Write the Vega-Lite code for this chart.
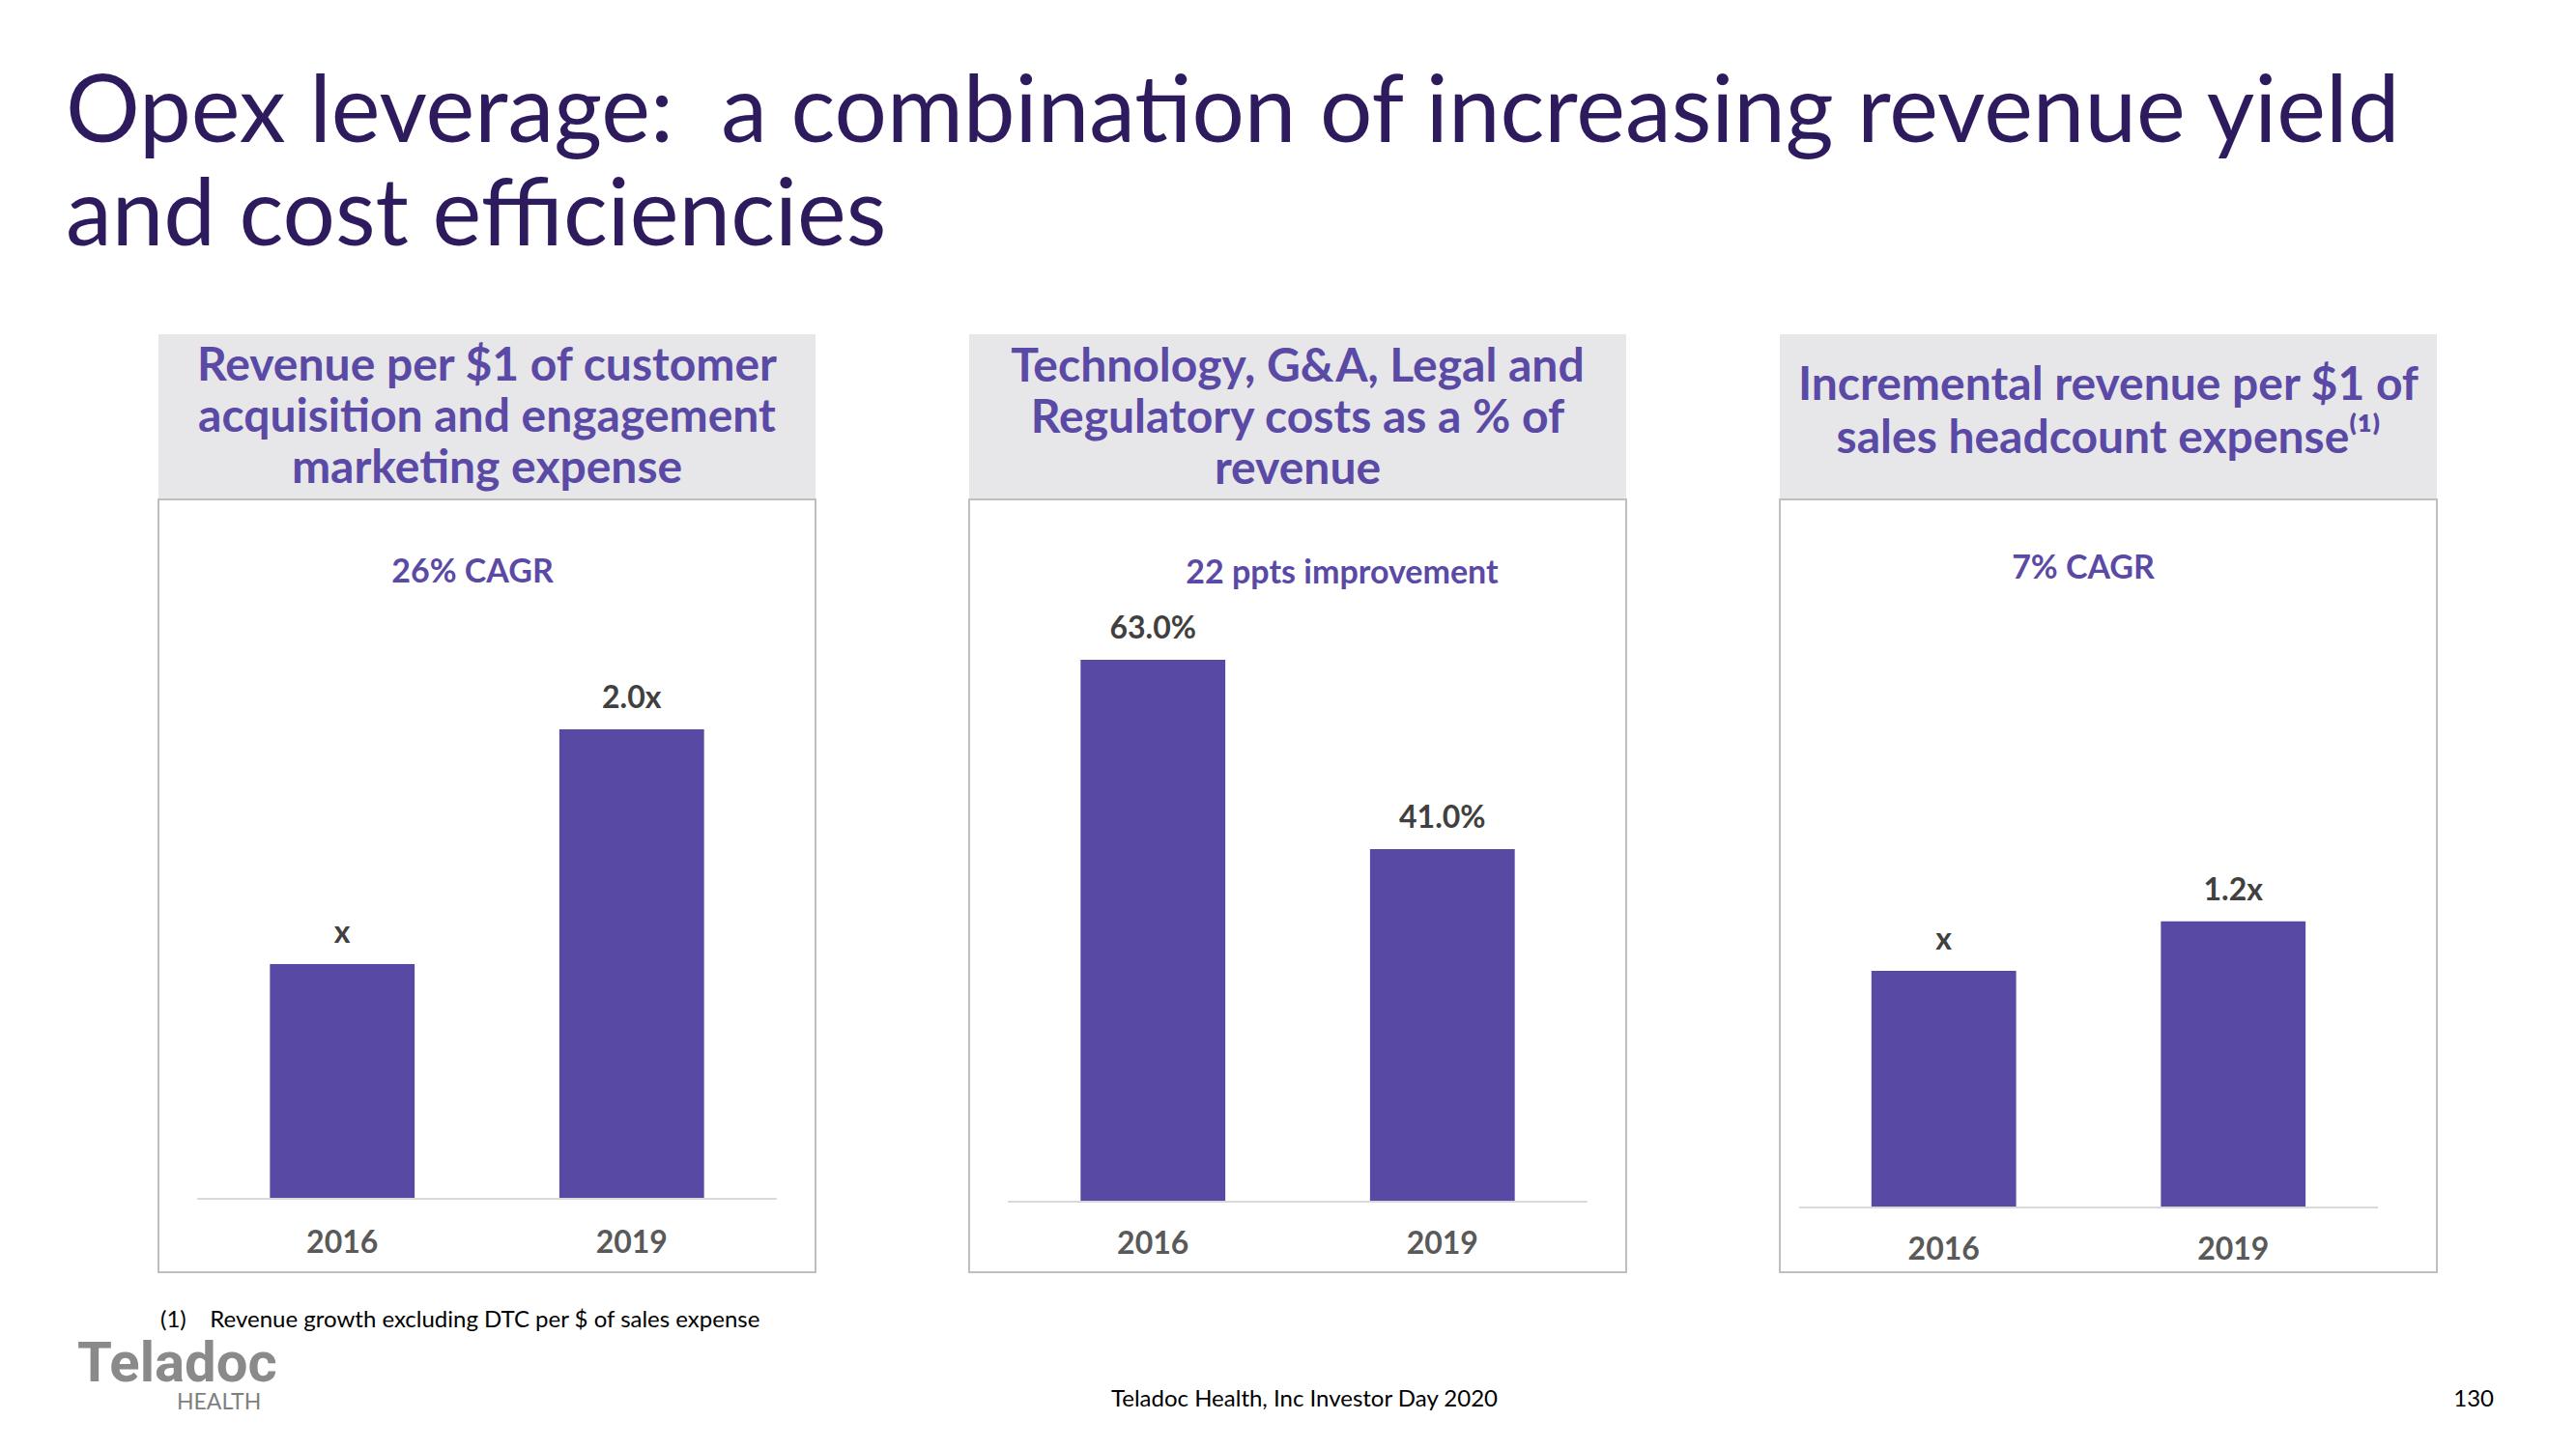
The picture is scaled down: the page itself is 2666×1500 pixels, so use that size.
{
  "$schema": "https://vega.github.io/schema/vega-lite/v6.json",
  "background": "white",
  "autosize": {"type": "pad"},
  "padding": {"left": 68, "top": 70, "right": 0, "bottom": 0},
  "spacing": 157,
  "title": {
    "text": ["Opex leverage:\u00a0 a combination of increasing revenue yield", "and cost efficiencies"],
    "anchor": "start",
    "dx": -12,
    "font": "Lato",
    "fontSize": 96,
    "fontWeight": 400,
    "lineHeight": 107,
    "color": "#2D1B5E",
    "offset": 72
  },
  "config": {"font": "Lato", "view": {"stroke": null}},
  "hconcat": [
    {
      "title": {
        "text": "HEALTH",
        "orient": "bottom",
        "anchor": "start",
        "dx": 103,
        "offset": -1,
        "font": "Lato",
        "fontSize": 23,
        "fontWeight": 400,
        "color": "#7F7F7F"
      },
      "vconcat": [
        {
          "spacing": 0,
          "title": {
            "text": "Teladoc",
            "orient": "bottom",
            "anchor": "start",
            "dx": -83,
            "offset": 4,
            "font": "Roboto",
            "fontSize": 58,
            "fontWeight": "bold",
            "color": "#8A8A8A"
          },
          "vconcat": [
            {
              "width": 680, "height": 170,
              "view": {"fill": "#E7E7E9", "stroke": null},
              "data": {"values": [{"t": ["Revenue per $1 of customer", "acquisition and engagement", "marketing expense"]}]},
              "mark": {"type": "text", "font": "Lato", "fontWeight": "bold", "fontSize": 48, "lineHeight": 53, "color": "#5A4AA6", "align": "center", "baseline": "middle", "dy": -51},
              "encoding": {"text": {"field": "t"}}
            },
            {
              "width": 680, "height": 800,
              "view": {"stroke": "#BFBFBF", "strokeWidth": 2},
              "title": {
                "text": "(1)\u00a0\u00a0\u00a0 Revenue growth excluding DTC per $ of sales expense",
                "orient": "bottom", "anchor": "start", "dx": 2, "offset": 38,
                "font": "Lato", "fontSize": 24, "fontWeight": 400, "color": "#000000"
              },
              "data": {"values": [
                {"year": "2016", "value": 1, "label": "x"},
                {"year": "2019", "value": 2, "label": "2.0x"}
              ]},
              "layer": [
                {
                  "mark": {"type": "bar", "color": "#5849A4"},
                  "encoding": {
                    "x": {"field": "year", "type": "nominal", "axis": null, "scale": {"paddingInner": 0.5, "paddingOuter": 0.385}},
                    "y": {"field": "value", "type": "quantitative", "axis": null, "scale": {"domain": [-0.313, 2.979], "nice": false, "zero": false}}
                  }
                },
                {
                  "mark": {"type": "rule", "color": "#D9D9D9", "strokeWidth": 2},
                  "encoding": {
                    "x": {"datum": "2016", "bandPosition": -0.5},
                    "x2": {"datum": "2019", "bandPosition": 1.5},
                    "y": {"datum": 0}
                  }
                },
                {
                  "mark": {"type": "text", "font": "Lato", "fontWeight": "bold", "fontSize": 32, "color": "#404040", "baseline": "middle", "dy": -32},
                  "encoding": {
                    "x": {"field": "year", "type": "nominal"},
                    "y": {"field": "value", "type": "quantitative"},
                    "text": {"field": "label"}
                  }
                },
                {
                  "mark": {"type": "text", "font": "Lato", "fontWeight": "bold", "fontSize": 32, "color": "#595959", "baseline": "middle"},
                  "encoding": {
                    "x": {"field": "year", "type": "nominal"},
                    "y": {"datum": -0.19},
                    "text": {"field": "year"}
                  }
                },
                {
                  "data": {"values": [{"t": "26% CAGR"}]},
                  "mark": {"type": "text", "font": "Lato", "fontWeight": "bold", "fontSize": 34, "color": "#5A4AA6", "baseline": "middle", "dx": -15},
                  "encoding": {
                    "y": {"datum": 2.667},
                    "text": {"field": "t"}
                  }
                }
              ]
            }
          ]
        }
      ]
    },
    {
      "spacing": 0,
      "vconcat": [
        {
          "width": 680, "height": 170,
          "view": {"fill": "#E7E7E9", "stroke": null},
          "data": {"values": [{"t": ["Technology, G&A, Legal and", "Regulatory costs as a % of", "revenue"]}]},
          "mark": {"type": "text", "font": "Lato", "fontWeight": "bold", "fontSize": 48, "lineHeight": 53, "color": "#5A4AA6", "align": "center", "baseline": "middle", "dy": -50},
          "encoding": {"text": {"field": "t"}}
        },
        {
          "width": 680, "height": 800,
          "view": {"stroke": "#BFBFBF", "strokeWidth": 2},
          "title": {
            "text": "Teladoc Health, Inc Investor Day 2020",
            "orient": "bottom", "anchor": "middle", "dx": 7, "offset": 120,
            "font": "Lato", "fontSize": 24, "fontWeight": 400, "color": "#000000"
          },
          "data": {"values": [
            {"year": "2016", "value": 63, "label": "63.0%"},
            {"year": "2019", "value": 41, "label": "41.0%"}
          ]},
          "layer": [
            {
              "mark": {"type": "bar", "color": "#5849A4"},
              "encoding": {
                "x": {"field": "year", "type": "nominal", "axis": null, "scale": {"paddingInner": 0.5, "paddingOuter": 0.385}},
                "y": {"field": "value", "type": "quantitative", "axis": null, "scale": {"domain": [-8.2, 81.64], "nice": false, "zero": false}}
              }
            },
            {
              "mark": {"type": "rule", "color": "#D9D9D9", "strokeWidth": 2},
              "encoding": {
                "x": {"datum": "2016", "bandPosition": -0.5},
                "x2": {"datum": "2019", "bandPosition": 1.5},
                "y": {"datum": 0}
              }
            },
            {
              "mark": {"type": "text", "font": "Lato", "fontWeight": "bold", "fontSize": 32, "color": "#404040", "baseline": "middle", "dy": -32},
              "encoding": {
                "x": {"field": "year", "type": "nominal"},
                "y": {"field": "value", "type": "quantitative"},
                "text": {"field": "label"}
              }
            },
            {
              "mark": {"type": "text", "font": "Lato", "fontWeight": "bold", "fontSize": 32, "color": "#595959", "baseline": "middle"},
              "encoding": {
                "x": {"field": "year", "type": "nominal"},
                "y": {"datum": -4.94},
                "text": {"field": "year"}
              }
            },
            {
              "data": {"values": [{"t": "22 ppts improvement"}]},
              "mark": {"type": "text", "font": "Lato", "fontWeight": "bold", "fontSize": 34, "color": "#5A4AA6", "baseline": "middle", "dx": 46},
              "encoding": {
                "y": {"datum": 73.0},
                "text": {"field": "t"}
              }
            }
          ]
        }
      ]
    },
    {
      "spacing": 0,
      "vconcat": [
        {
          "width": 680, "height": 170,
          "view": {"fill": "#E7E7E9", "stroke": null},
          "data": {"values": [{"t": ["Incremental revenue per $1 of", "sales headcount expense\u207d\u00b9\u207e"]}]},
          "mark": {"type": "text", "font": "Lato", "fontWeight": "bold", "fontSize": 48, "lineHeight": 55, "color": "#5A4AA6", "align": "center", "baseline": "middle", "dy": -31},
          "encoding": {"text": {"field": "t"}}
        },
        {
          "width": 680, "height": 800,
          "view": {"stroke": "#BFBFBF", "strokeWidth": 2},
          "title": {
            "text": "130",
            "orient": "bottom", "anchor": "end", "dx": 59, "offset": 120,
            "font": "Lato", "fontSize": 24, "fontWeight": 400, "color": "#000000"
          },
          "data": {"values": [
            {"year": "2016", "value": 1, "label": "x"},
            {"year": "2019", "value": 1.21, "label": "1.2x"}
          ]},
          "layer": [
            {
              "mark": {"type": "bar", "color": "#5849A4"},
              "encoding": {
                "x": {"field": "year", "type": "nominal", "axis": null, "scale": {"paddingInner": 0.5, "paddingOuter": 0.385, "align": 0.411}},
                "y": {"field": "value", "type": "quantitative", "axis": null, "scale": {"domain": [-0.273, 2.992], "nice": false, "zero": false}}
              }
            },
            {
              "mark": {"type": "rule", "color": "#D9D9D9", "strokeWidth": 2},
              "encoding": {
                "x": {"datum": "2016", "bandPosition": -0.5},
                "x2": {"datum": "2019", "bandPosition": 1.5},
                "y": {"datum": 0}
              }
            },
            {
              "mark": {"type": "text", "font": "Lato", "fontWeight": "bold", "fontSize": 32, "color": "#404040", "baseline": "middle", "dy": -32},
              "encoding": {
                "x": {"field": "year", "type": "nominal"},
                "y": {"field": "value", "type": "quantitative"},
                "text": {"field": "label"}
              }
            },
            {
              "mark": {"type": "text", "font": "Lato", "fontWeight": "bold", "fontSize": 32, "color": "#595959", "baseline": "middle"},
              "encoding": {
                "x": {"field": "year", "type": "nominal"},
                "y": {"datum": -0.18},
                "text": {"field": "year"}
              }
            },
            {
              "data": {"values": [{"t": "7% CAGR"}]},
              "mark": {"type": "text", "font": "Lato", "fontWeight": "bold", "fontSize": 34, "color": "#5A4AA6", "baseline": "middle", "dx": -26},
              "encoding": {
                "y": {"datum": 2.7},
                "text": {"field": "t"}
              }
            }
          ]
        }
      ]
    }
  ]
}
